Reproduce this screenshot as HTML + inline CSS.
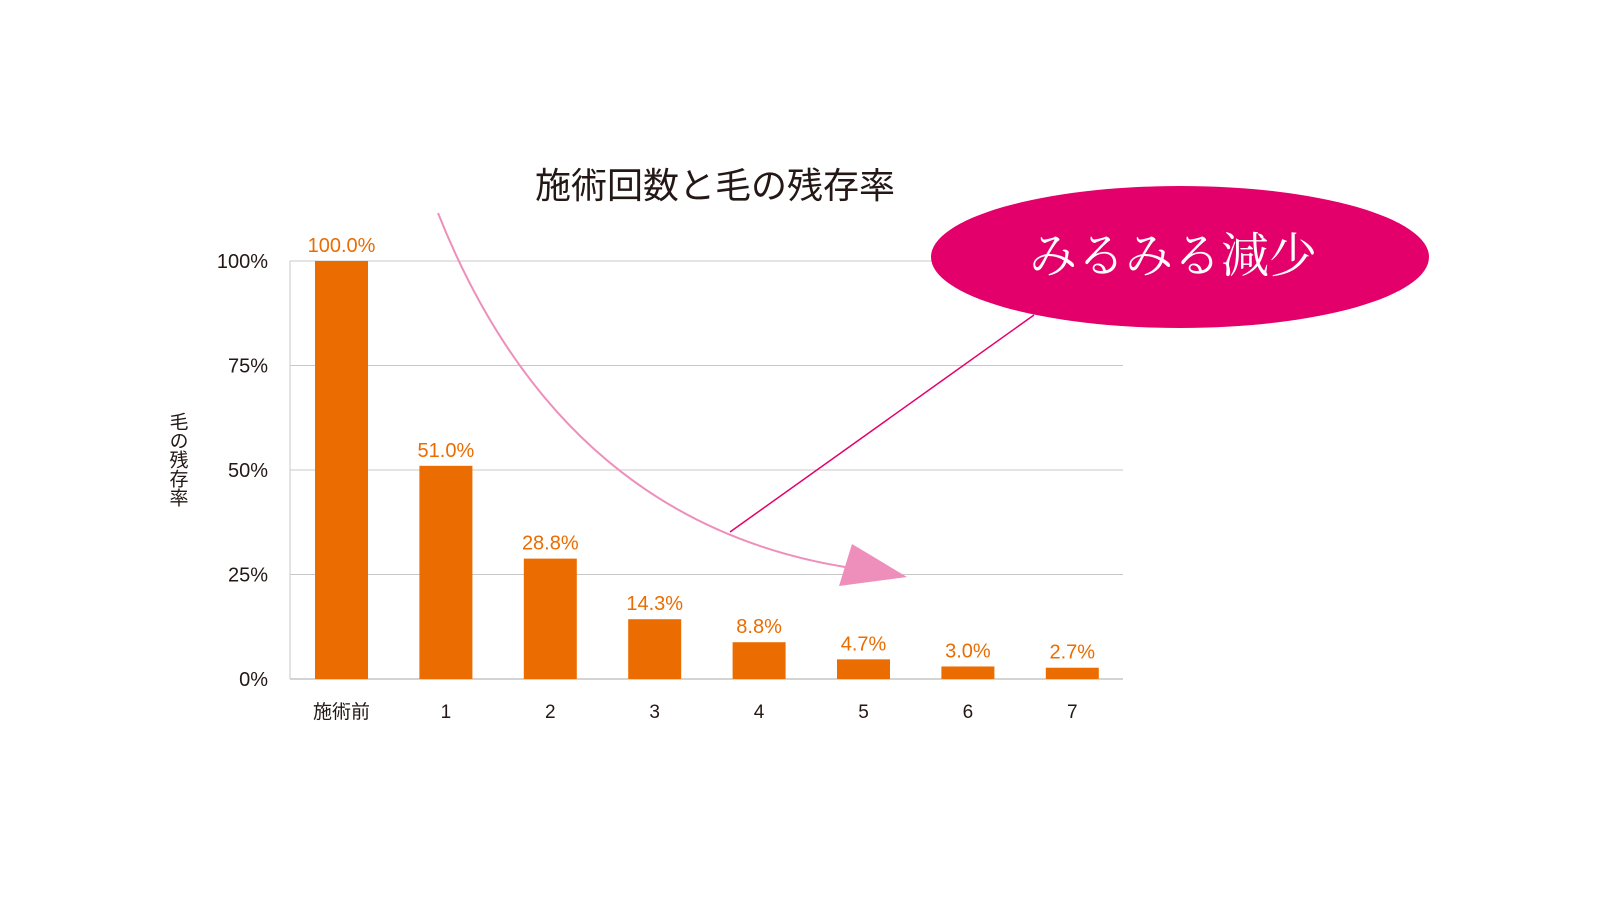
<!DOCTYPE html>
<html><head><meta charset="utf-8"><style>
body{margin:0;background:#fff;}
svg text{font-family:"Liberation Sans","Noto Sans CJK JP",sans-serif;}
</style></head><body>
<svg width="1600" height="909" viewBox="0 0 1600 909">
<text x="715" y="198" font-size="36" text-anchor="middle" fill="#231815">施術回数と毛の残存率</text>
<g id="grid"></g>
<g id="bars"></g>
<g id="ylab"></g>
<g id="xlab"></g>
<text transform="translate(177,412)" font-size="19" fill="#231815" style="writing-mode:vertical-rl">毛の残存率</text>
<path d="M438,213 Q560,520 845,567" fill="none" stroke="#ee8fbb" stroke-width="2"/>
<polygon points="852,544 839,586 907,577" fill="#ee8fbb"/>
<line x1="1034" y1="315" x2="730" y2="532" stroke="#e4006b" stroke-width="1.5"/>
<ellipse cx="1180" cy="257" rx="249" ry="71" fill="#e4006b"/>
<text x="1173" y="272" font-size="48" fill="#fff" text-anchor="middle" style="font-family:'Noto Serif CJK SC','Liberation Serif',serif">みるみる減少</text>
</svg>
<script>
const categories=["施術前","1","2","3","4","5","6","7"];
const values=[100,51.0,28.8,14.3,8.8,4.7,3.0,2.7];
const valueLabels=["100.0%","51.0%","28.8%","14.3%","8.8%","4.7%","3.0%","2.7%"];
const yTicks=[0,25,50,75,100];
const yTickLabels=["0%","25%","50%","75%","100%"];
const NS="http://www.w3.org/2000/svg";
const y=v=>679-v*4.18;
const x=i=>341.5+i*104.4;
function mk(t,a,p){const e=document.createElementNS(NS,t);for(const k in a)e.setAttribute(k,a[k]);p.appendChild(e);return e;}
const g=document.getElementById('grid'),b=document.getElementById('bars'),yl=document.getElementById('ylab'),xl=document.getElementById('xlab');
yTicks.forEach((t,i)=>{
 const l=mk('line',{x1:290,x2:1123,y1:y(t),y2:y(t),stroke:t===0?'#aaa':'#c8c8c8','stroke-width':1},g);
 
 
 const tx=mk('text',{x:268,y:y(t)+7,'font-size':20,'text-anchor':'end',fill:'#231815'},yl);
 tx.textContent=yTickLabels[i];
 
 
});
mk('line',{x1:290,x2:290,y1:y(100),y2:y(0),stroke:'#c8c8c8'},g);
categories.forEach((c,i)=>{
 const r=mk('rect',{x:x(i)-26.5,y:y(values[i]),width:53,height:y(0)-y(values[i]),fill:'#eb6c00'},b);
 
 
 const v=mk('text',{x:x(i),y:y(values[i])-9,'font-size':20,'text-anchor':'middle',fill:'#eb6c00'},b);
 v.textContent=valueLabels[i];
 
 
 const t=mk('text',{x:x(i),y:718,'font-size':19,'text-anchor':'middle',fill:'#231815'},xl);
 t.textContent=c;
 
 
});
</script>
</body></html>
